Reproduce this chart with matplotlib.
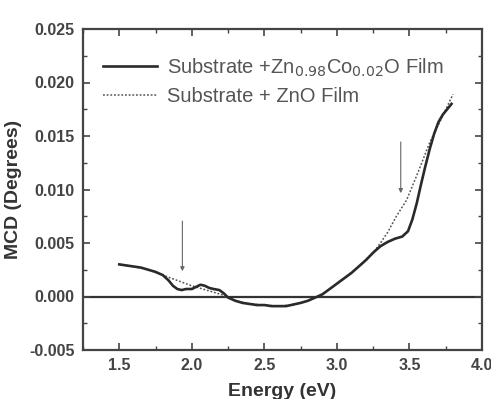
import matplotlib
matplotlib.use("Agg")
import matplotlib.pyplot as plt
from matplotlib.ticker import MultipleLocator

plt.rcParams['font.family'] = ['Liberation Sans', 'DejaVu Sans']

# Substrate + Zn0.98Co0.02O film (solid)
solid_x = [1.50, 1.55, 1.60, 1.65, 1.70, 1.75, 1.80, 1.84, 1.87, 1.90, 1.93, 1.96,
           2.00, 2.03, 2.06, 2.09, 2.12, 2.15, 2.19, 2.22, 2.25, 2.30, 2.35, 2.40,
           2.45, 2.50, 2.55, 2.60, 2.65, 2.70, 2.75, 2.80, 2.85, 2.90, 2.95, 3.00,
           3.05, 3.10, 3.15, 3.20, 3.25, 3.30, 3.35, 3.40, 3.45, 3.49, 3.52, 3.55,
           3.58, 3.61, 3.64, 3.67, 3.70, 3.73, 3.76, 3.79]
solid_y = [0.0030, 0.0029, 0.0028, 0.0027, 0.0025, 0.0023, 0.0020, 0.0015, 0.0010,
           0.0007, 0.0006, 0.0007, 0.0007, 0.0009, 0.0011, 0.0010, 0.0008, 0.0007,
           0.0006, 0.0003, -0.0001, -0.0004, -0.0006, -0.0007, -0.0008, -0.0008,
           -0.0009, -0.0009, -0.0009, -0.00075, -0.0006, -0.0004, -0.0001, 0.0002,
           0.0007, 0.0012, 0.0017, 0.0022, 0.0028, 0.0034, 0.0041, 0.0047, 0.0051,
           0.0054, 0.0056, 0.0061, 0.0072, 0.0087, 0.0105, 0.0122, 0.0138, 0.0152,
           0.0163, 0.0170, 0.0175, 0.0180]

# Substrate + ZnO film (dotted)
dot_x = [1.50, 1.60, 1.70, 1.80, 1.90, 2.00, 2.10, 2.20, 2.25, 2.30, 2.40, 2.50,
         2.60, 2.70, 2.80, 2.87, 2.95, 3.05, 3.15, 3.25, 3.30, 3.35, 3.41, 3.48,
         3.55, 3.64, 3.73, 3.80]
dot_y = [0.0030, 0.0028, 0.0025, 0.0020, 0.0015, 0.0010, 0.0006, 0.0002, -0.0001,
         -0.0004, -0.0007, -0.0008, -0.0009, -0.00075, -0.0004, 0.0, 0.0007, 0.0017,
         0.0028, 0.0041, 0.0050, 0.0060, 0.0075, 0.0090, 0.0113, 0.0144, 0.0169, 0.0189]

arrow_x = [1.935, 3.44]
arrow_top = [0.0073, 0.0147]
arrow_tip = [0.0021, 0.0094]

fig = plt.figure(figsize=(4.91, 3.99), dpi=100)
ax = fig.add_axes([83 / 491, 1 - 350 / 399, 399 / 491, 321 / 399])

ax.axhline(0, color='#333333', lw=1.6, zorder=1)
ax.plot(dot_x, dot_y, color='#555555', ls=(0, (1.2, 1.2)), lw=1.1,
        label='Substrate + ZnO Film', zorder=2)
ax.plot(solid_x, solid_y, color='#2a2a2a', lw=1.9,
        label='Substrate +Zn$_{0.98}$Co$_{0.02}$O Film', zorder=3)

for xa, yt, yb in zip(arrow_x, arrow_top, arrow_tip):
    ax.annotate('', xy=(xa, yb), xytext=(xa, yt),
                arrowprops=dict(arrowstyle='-|>', color='#666666', lw=0.8,
                                mutation_scale=6))

ax.set_xlim(1.25, 4.0)
ax.set_ylim(-0.005, 0.025)
ax.xaxis.set_minor_locator(MultipleLocator(0.25))
ax.yaxis.set_minor_locator(MultipleLocator(0.0025))
ax.set_xticks([1.5, 2.0, 2.5, 3.0, 3.5, 4.0])
ax.set_xticklabels(['1.5', '2.0', '2.5', '3.0', '3.5', '4.0'])
ax.set_yticks([-0.005, 0.0, 0.005, 0.010, 0.015, 0.020, 0.025])
ax.set_yticklabels(['-0.005', '0.000', '0.005', '0.010', '0.015', '0.020', '0.025'])

ax.tick_params(which='both', direction='in', top=True, right=True,
               color='#444444', labelcolor='#444444', labelsize=11.5)
ax.tick_params(which='major', length=5, width=1.2, pad=6)
ax.tick_params(which='minor', length=3, width=1.0)
for lab in ax.get_xticklabels() + ax.get_yticklabels():
    lab.set_fontweight('bold')
for s in ax.spines.values():
    s.set_color('#444444')
    s.set_linewidth(1.6)

ax.set_xlabel('Energy (eV)', fontsize=14, fontweight='bold', color='#333333', labelpad=7)
ax.set_ylabel('MCD (Degrees)', fontsize=14, fontweight='bold', color='#333333', labelpad=5)

handles, labels = ax.get_legend_handles_labels()
leg = ax.legend(handles[::-1], labels[::-1], loc='upper left', frameon=False,
                fontsize=14.5, handlelength=2.7, handletextpad=0.5, labelspacing=0.4,
                bbox_to_anchor=(0.03, 0.94), borderaxespad=0)
for t in leg.get_texts():
    t.set_color('#555555')

fig.savefig('out.png', dpi=100)
